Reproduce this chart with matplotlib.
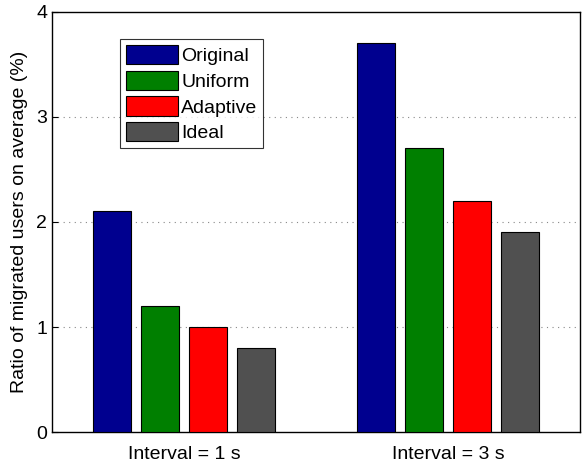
import matplotlib
matplotlib.use("Agg")
import matplotlib.pyplot as plt
import numpy as np

plt.rcParams['font.family'] = ['Liberation Sans', 'DejaVu Sans']

groups = ["Interval = 1 s", "Interval = 3 s"]
methods = ["Original", "Uniform", "Adaptive", "Ideal"]
original = [2.1, 3.7]
uniform = [1.2, 2.7]
adaptive = [1.0, 2.2]
ideal = [0.8, 1.9]
yticks = [0, 1, 2, 3, 4]

series = [original, uniform, adaptive, ideal]
colors = ["#00008F", "#007F00", "#FF0000", "#505050"]

fig = plt.figure(figsize=(5.82, 4.68), dpi=100)
ax = fig.add_axes([0.0893, 0.0769, 0.9075, 0.8975])

x = np.arange(1, len(groups) + 1)
width = 0.143
step = 0.182
for i, (vals, col, name) in enumerate(zip(series, colors, methods)):
    off = (i - 1.5) * step
    ax.bar(x + off, vals, width=width, color=col, edgecolor="black",
           linewidth=0.8, label=name, zorder=3)

ax.set_xlim(0.5, 2.5)
ax.set_ylim(0, 4)
ax.set_yticks(yticks)
ax.set_xticks(x)
ax.set_xticklabels(groups)
ax.tick_params(direction="in", labelsize=14, length=4)
ax.tick_params(axis="x", length=0, pad=10)
for y in yticks[1:-1]:
    ax.axhline(y, color="#888888", linestyle=(0, (1, 4)), linewidth=0.8, zorder=1)
for s in ax.spines.values():
    s.set_linewidth(1.0)
ax.set_ylabel("Ratio of migrated users on average (%)", fontsize=14, labelpad=6)

leg = ax.legend(loc="upper left", bbox_to_anchor=(0.129, 0.935), fontsize=14,
                frameon=True, fancybox=False, edgecolor="black",
                handlelength=2.7, handleheight=1.15, handletextpad=0.15,
                labelspacing=0.28, borderpad=0.3, borderaxespad=0)
leg.get_frame().set_linewidth(0.8)

fig.savefig("out.png", dpi=100)
